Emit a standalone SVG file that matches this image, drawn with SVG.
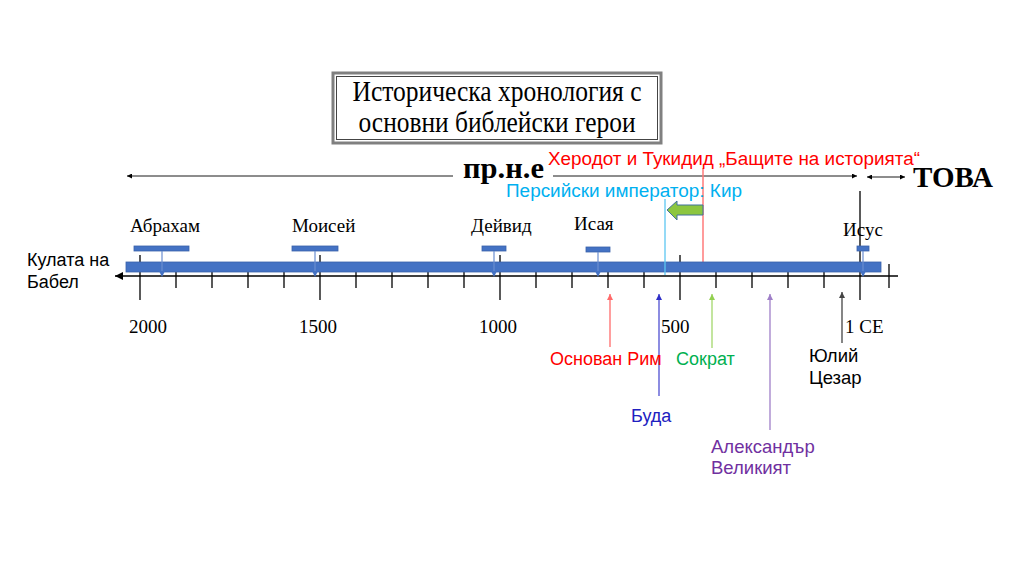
<svg xmlns="http://www.w3.org/2000/svg" width="1024" height="576" viewBox="0 0 1024 576">
<defs>
<style>
.serif{font-family:"Liberation Serif","Times New Roman",serif;fill:#000}
.sans{font-family:"Liberation Sans",Arial,sans-serif}
.tick{stroke:#000;stroke-width:1.3}
.stem{stroke:#6A8ED0;stroke-width:1.2}
.mk{fill:#4472C4;stroke:#3A62AA;stroke-width:0.8}
.thin{stroke:#000;stroke-width:0.9;fill:none}
</style>
<marker id="ah" viewBox="0 0 10 10" refX="10" refY="5" markerWidth="7" markerHeight="5" orient="auto-start-reverse" markerUnits="userSpaceOnUse">
<path d="M0,0 L10,5 L0,10 z" fill="#000"/>
</marker>
<marker id="ahBig" viewBox="0 0 10 10" refX="10" refY="5" markerWidth="11" markerHeight="8" orient="auto-start-reverse" markerUnits="userSpaceOnUse">
<path d="M0,0 L10,5 L0,10 z" fill="#000"/>
</marker>
<marker id="up" viewBox="0 0 10 10" refX="10" refY="5" markerWidth="7" markerHeight="6" orient="auto" markerUnits="userSpaceOnUse">
<path d="M0,0 L10,5 L0,10 z" fill="context-stroke"/>
</marker>
</defs>
<rect width="1024" height="576" fill="#fff"/>

<g id="title">
<rect x="333" y="73" width="328" height="70" fill="#fff" stroke="#808080" stroke-width="3"/>
<rect x="336.5" y="76.5" width="321" height="63" fill="none" stroke="#444" stroke-width="1"/>
<text class="serif" x="497" y="101" font-size="30" text-anchor="middle" textLength="289" lengthAdjust="spacingAndGlyphs">Историческа хронология с</text>
<text class="serif" x="497" y="132" font-size="30" text-anchor="middle" textLength="277" lengthAdjust="spacingAndGlyphs">основни библейски герои</text>
</g>

<g id="connectors">
<line class="thin" x1="453" y1="176" x2="127" y2="176" marker-end="url(#ah)"/>
<line class="thin" x1="553" y1="176" x2="857" y2="176" marker-end="url(#ah)"/>
<line class="thin" x1="867" y1="177" x2="905" y2="177" marker-start="url(#ah)" marker-end="url(#ah)"/>
<line x1="703" y1="168" x2="703" y2="263" stroke="#FF7A7A" stroke-width="1.5"/>
<line x1="610" y1="347" x2="610" y2="294" stroke="#FF6A6A" stroke-width="1.3" marker-end="url(#up)"/>
<line x1="659" y1="396" x2="659" y2="294" stroke="#2E2EC8" stroke-width="1.1" marker-end="url(#up)"/>
<line x1="712" y1="348" x2="712" y2="294" stroke="#92D050" stroke-width="1.1" marker-end="url(#up)"/>
<line x1="770" y1="430" x2="770" y2="294" stroke="#9F7FC8" stroke-width="1.3" marker-end="url(#up)"/>
<line x1="842" y1="343" x2="842" y2="292" stroke="#444" stroke-width="1.3" marker-end="url(#up)"/>
</g>

<g id="timeline">
<line x1="898" y1="276" x2="115" y2="276" stroke="#000" stroke-width="1.5" marker-end="url(#ahBig)"/>
<g class="tick">
<line x1="140" y1="255" x2="140" y2="300"/>
<line x1="320" y1="255" x2="320" y2="300"/>
<line x1="500" y1="255" x2="500" y2="300"/>
<line x1="680" y1="255" x2="680" y2="300"/>
<line x1="860" y1="191" x2="860" y2="300"/>
<line x1="889" y1="264" x2="889" y2="288"/>
<line x1="176" y1="270" x2="176" y2="288"/>
<line x1="212" y1="270" x2="212" y2="288"/>
<line x1="248" y1="270" x2="248" y2="288"/>
<line x1="284" y1="270" x2="284" y2="288"/>
<line x1="356" y1="270" x2="356" y2="288"/>
<line x1="392" y1="270" x2="392" y2="288"/>
<line x1="428" y1="270" x2="428" y2="288"/>
<line x1="464" y1="270" x2="464" y2="288"/>
<line x1="536" y1="270" x2="536" y2="288"/>
<line x1="572" y1="270" x2="572" y2="288"/>
<line x1="608" y1="270" x2="608" y2="288"/>
<line x1="644" y1="270" x2="644" y2="288"/>
<line x1="716" y1="270" x2="716" y2="288"/>
<line x1="752" y1="270" x2="752" y2="288"/>
<line x1="788" y1="270" x2="788" y2="288"/>
<line x1="824" y1="270" x2="824" y2="288"/>
</g>
<rect x="126" y="262" width="755" height="10" fill="#4472C4" stroke="#3A62AA" stroke-width="0.8"/>
<line x1="665" y1="199" x2="665" y2="275" stroke="#5CC6F2" stroke-width="1.3"/>
<g class="serif" font-size="19">
<text x="129" y="333">2000</text>
<text x="299" y="333">1500</text>
<text x="479" y="333">1000</text>
<text x="661" y="333">500</text>
<text x="845" y="333">1 CE</text>
</g>
</g>

<g id="abraham">
<rect class="mk" x="134" y="246" width="55" height="5"/>
<line class="stem" x1="162" y1="251" x2="162" y2="272"/>
<path d="M159,271 L165,271 L162,277 z" fill="#4472C4"/>
<text class="serif" x="130" y="232" font-size="19">Абрахам</text>
</g>
<g id="moses">
<rect class="mk" x="292" y="246" width="46" height="5"/>
<line class="stem" x1="315" y1="251" x2="315" y2="272"/>
<path d="M312,271 L318,271 L315,277 z" fill="#4472C4"/>
<text class="serif" x="292" y="232" font-size="19">Моисей</text>
</g>
<g id="david">
<rect class="mk" x="482" y="246" width="24" height="5"/>
<line class="stem" x1="494" y1="251" x2="494" y2="272"/>
<path d="M491,271 L497,271 L494,277 z" fill="#4472C4"/>
<text class="serif" x="471" y="232" font-size="19">Дейвид</text>
</g>
<g id="isaiah">
<rect class="mk" x="586" y="247" width="24" height="5"/>
<line class="stem" x1="598" y1="252" x2="598" y2="272"/>
<path d="M595,271 L601,271 L598,277 z" fill="#4472C4"/>
<text class="serif" x="574" y="230" font-size="19">Исая</text>
</g>
<g id="jesus">
<rect class="mk" x="857" y="246" width="12" height="5"/>
<line class="stem" x1="863" y1="251" x2="863" y2="272"/>
<path d="M860,271 L866,271 L863,277 z" fill="#4472C4"/>
<text class="serif" x="843" y="236" font-size="19">Исус</text>
</g>

<g id="babel">
<text class="sans" x="27" y="266" font-size="18" fill="#000">Кулата на</text>
<text class="sans" x="27" y="288" font-size="18" fill="#000">Бабел</text>
</g>

<g id="era-labels">
<text class="serif" x="463" y="178" font-size="30" font-weight="bold" textLength="81" lengthAdjust="spacingAndGlyphs">пр.н.е</text>
<text class="serif" x="913" y="187" font-size="30" font-weight="bold" textLength="80" lengthAdjust="spacingAndGlyphs">ТОВА</text>
</g>

<g id="herodotus">
<text class="sans" x="548" y="165" font-size="18" fill="#FF0000" textLength="372" lengthAdjust="spacingAndGlyphs">Херодот и Тукидид „Бащите на историята“</text>
</g>
<g id="cyrus">
<text class="sans" x="506" y="197" font-size="18" fill="#00B0F0" textLength="236" lengthAdjust="spacingAndGlyphs">Персийски император: Кир</text>
<path d="M667,210 L677,201 L677,205 L703,205 L703,215 L677,215 L677,220 z" fill="#8CC63F" stroke="#41719C" stroke-width="1"/>
</g>

<g id="rome">
<text class="sans" x="550" y="365" font-size="18" fill="#FF0000">Основан Рим</text>
</g>
<g id="buddha">
<text class="sans" x="631" y="422" font-size="18" fill="#2020C0">Буда</text>
</g>
<g id="socrates">
<text class="sans" x="676" y="365" font-size="18" fill="#00B050">Сократ</text>
</g>
<g id="alexander">
<text class="sans" x="711" y="453" font-size="18.5" fill="#7030A0">Александър</text>
<text class="sans" x="711" y="474" font-size="18.5" fill="#7030A0">Великият</text>
</g>
<g id="caesar">
<text class="sans" x="809" y="362" font-size="18.5" fill="#000">Юлий</text>
<text class="sans" x="809" y="384" font-size="18.5" fill="#000">Цезар</text>
</g>
</svg>
